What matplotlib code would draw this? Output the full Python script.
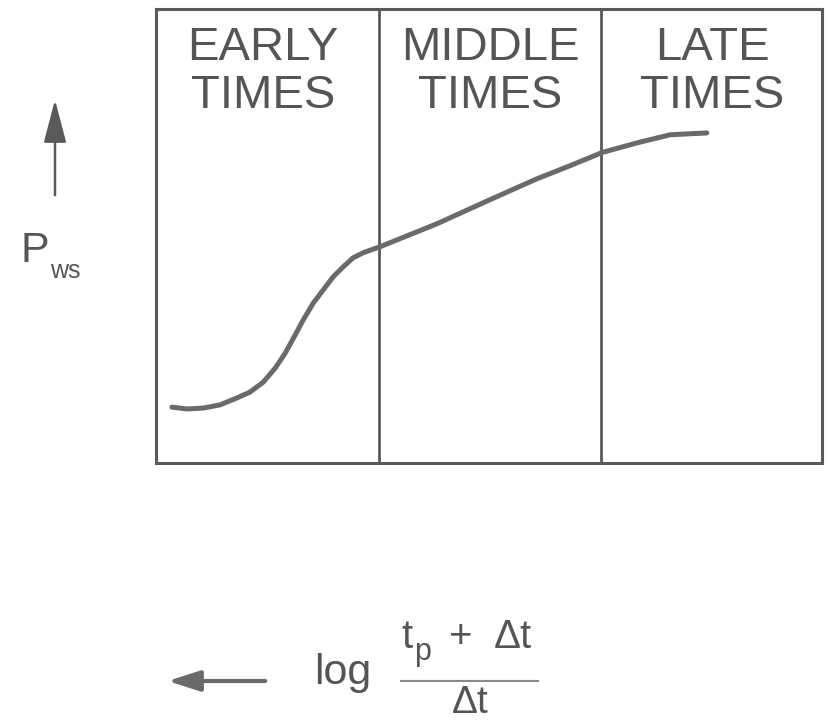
import matplotlib
matplotlib.use("Agg")
import matplotlib.pyplot as plt
from matplotlib.lines import Line2D
from matplotlib.patches import FancyArrowPatch

plt.rcParams['font.family'] = ['Liberation Sans', 'DejaVu Sans']

# Buildup curve (shut-in pressure vs Horner time, arbitrary units)
horner_x = [0.24, 0.47, 0.71, 0.96, 1.21, 1.41, 1.61, 1.79, 1.94, 2.09,
            2.21, 2.36, 2.51, 2.66, 2.81, 2.96, 3.11, 3.26, 3.36, 3.51,
            4.22, 4.97, 5.72, 6.22, 6.70, 7.22, 7.72, 8.27]
pws = [1.23, 1.19, 1.21, 1.28, 1.43, 1.56, 1.78, 2.09, 2.42, 2.82,
       3.15, 3.52, 3.81, 4.10, 4.32, 4.52, 4.63, 4.71, 4.76, 4.85,
       5.27, 5.77, 6.26, 6.55, 6.84, 7.05, 7.23, 7.27]

region_bounds = [3.35, 6.68]
region_labels = [("EARLY", "TIMES"), ("MIDDLE", "TIMES"), ("LATE", "TIMES")]
region_centers = [1.61, 5.02, 8.35]

W, H = 829, 720
fig = plt.figure(figsize=(W / 100, H / 100), dpi=100)
fig.patch.set_facecolor('white')

line_col = '#5a5a5a'
text_col = '#555555'

ax = fig.add_axes([156 / W, (H - 463) / H, 666 / W, 454 / H])
ax.set_xlim(0, 10)
ax.set_ylim(0, 10)
ax.set_xticks([])
ax.set_yticks([])
for s in ax.spines.values():
    s.set_linewidth(2.2)
    s.set_color(line_col)

for xb in region_bounds:
    ax.axvline(xb, color=line_col, lw=2.0)

ax.plot(horner_x, pws, color='#6a6a6a', lw=3.6, solid_capstyle='round',
        solid_joinstyle='round')


def fx(px):
    return px / W


def fy(py):
    return 1 - py / H


for (l1, l2), xc in zip(region_labels, region_centers):
    xf = fx(156 + xc * 66.6)
    fig.text(xf, fy(60), l1, ha='center', va='baseline', fontsize=34,
             color=text_col)
    fig.text(xf, fy(108), l2, ha='center', va='baseline', fontsize=34,
             color=text_col)

# Vertical axis: arrow and P_ws label
fig.patches.append(FancyArrowPatch((fx(55), fy(198)), (fx(55), fy(97)),
                                   transform=fig.transFigure,
                                   arrowstyle='-|>,head_length=1.9,head_width=0.5',
                                   mutation_scale=14, color=line_col, lw=1.8))
fig.text(fx(21), fy(262), "P", ha='left', va='baseline', fontsize=31,
         color=text_col)
fig.text(fx(50), fy(278), "ws", ha='left', va='baseline', fontsize=18,
         color=text_col)

# Horizontal axis: arrow pointing left, and Horner time label
fig.patches.append(FancyArrowPatch((fx(268), fy(681)), (fx(165), fy(681)),
                                   transform=fig.transFigure,
                                   arrowstyle='-|>,head_length=1.4,head_width=0.45',
                                   mutation_scale=14, color='#6a6a6a', lw=3.0))
fig.text(fx(314), fy(684), "log", ha='left', va='baseline', fontsize=31,
         color=text_col)
fig.text(fx(401), fy(648), "t", ha='left', va='baseline', fontsize=29,
         color=text_col)
fig.text(fx(414), fy(660), "p", ha='left', va='baseline', fontsize=22,
         color=text_col)
fig.text(fx(461), fy(648), "+", ha='center', va='baseline', fontsize=29,
         color=text_col)
fig.text(fx(494), fy(648), "Δt", ha='left', va='baseline', fontsize=29,
         color=text_col)
fig.add_artist(Line2D([fx(401), fx(538)], [fy(681), fy(681)],
                      transform=fig.transFigure, color='#8a8a8a', lw=1.5))
fig.text(fx(470), fy(713), "Δt", ha='center', va='baseline', fontsize=28,
         color=text_col)

fig.savefig("out.png", dpi=100, facecolor='white')
